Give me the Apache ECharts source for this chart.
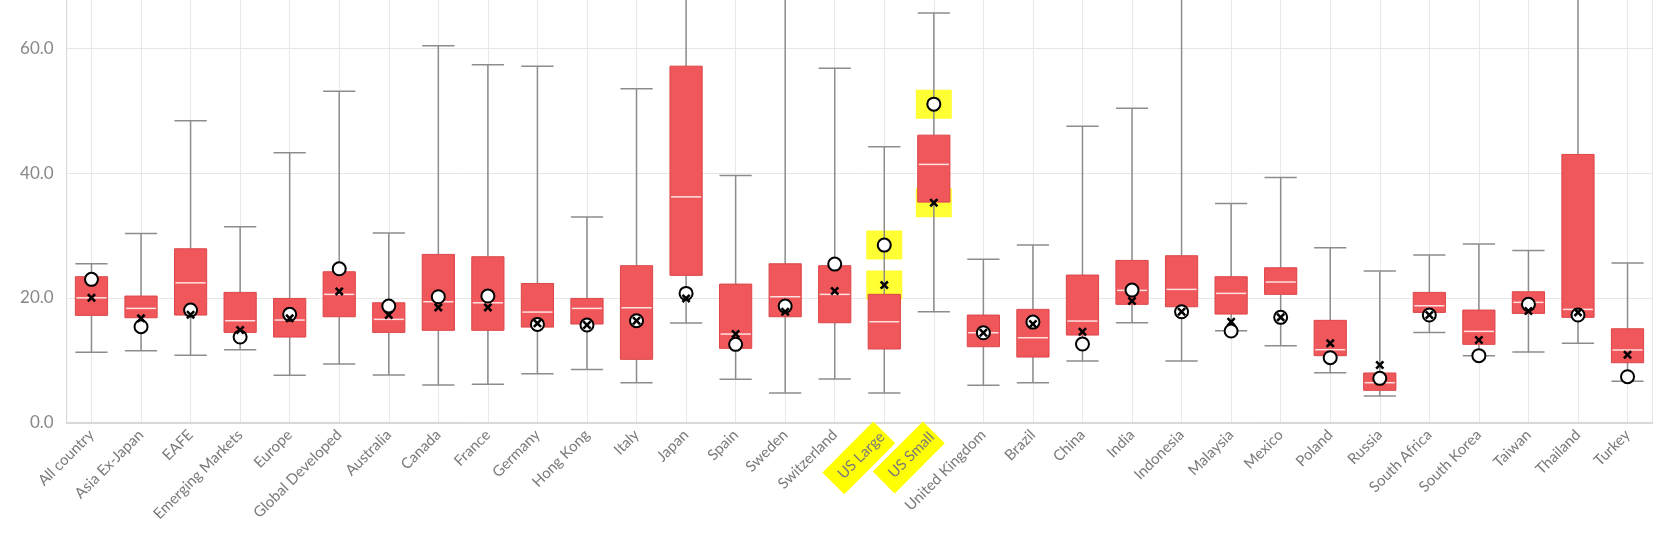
<!DOCTYPE html>
<html>
<head>
<meta charset="utf-8">
<script src="https://cdn.jsdelivr.net/npm/echarts@6/dist/echarts.min.js"></script>
<style>
html,body{margin:0;padding:0;background:#fff;}
#chart{width:1677px;height:535px;}
</style>
</head>
<body>
<div id="chart"></div>
<script>
const categories = ['All country','Asia Ex-Japan','EAFE','Emerging Markets','Europe','Global Developed','Australia','Canada','France','Germany','Hong Kong','Italy','Japan','Spain','Sweden','Switzerland','US Large','US Small','United Kingdom','Brazil','China','India','Indonesia','Malaysia','Mexico','Poland','Russia','South Africa','South Korea','Taiwan','Thailand','Turkey'];
const lowerWhisker = [11.25,11.5,10.76,11.67,7.55,9.37,7.6,6.0,6.11,7.82,8.5,6.37,15.95,6.91,4.72,6.96,4.72,17.76,5.95,6.37,9.85,16.0,9.85,14.72,12.31,7.98,4.24,14.45,10.71,11.29,12.69,6.59];
const q1 = [17.18,16.8,17.23,14.45,13.7,16.96,14.45,14.78,14.78,15.3,15.79,10.12,23.6,11.89,16.96,16.0,11.78,35.36,12.15,10.49,14.02,18.95,18.56,17.39,20.55,10.71,5.15,17.66,12.53,17.5,16.86,9.58];
const median = [20.0,18.3,22.4,16.32,16.43,20.55,16.54,19.37,19.2,17.71,18.3,18.4,36.2,14.18,20.17,20.55,16.16,41.41,14.39,13.59,16.27,21.19,21.35,20.71,22.53,11.67,6.37,18.72,14.61,19.27,18.14,11.62];
const q3 = [23.38,20.28,27.87,20.87,19.9,24.18,19.2,26.97,26.59,22.3,19.9,25.15,57.18,22.2,25.46,25.15,20.55,46.11,17.23,18.14,23.65,26.0,26.75,23.38,24.82,16.38,7.93,20.87,18.03,20.97,43.01,15.03];
const upperWhisker = [25.46,30.34,48.4,31.4,43.27,53.17,30.39,60.44,57.39,57.18,32.95,53.55,80,39.64,72,56.86,44.24,65.73,26.17,28.46,47.55,50.44,75,35.15,39.32,28.03,24.29,26.86,28.62,27.6,85,25.57];
const circleValues = [22.96,15.36,18.03,13.7,17.34,24.66,18.67,20.17,20.28,15.73,15.63,16.32,20.71,12.53,18.67,25.41,28.46,51.08,14.39,16.1,12.58,21.24,17.76,14.66,16.86,10.38,7.07,17.23,10.71,18.95,17.23,7.33];
const crossValues = [20.0,16.7,17.28,14.82,16.7,21.03,17.23,18.46,18.46,15.9,15.63,16.32,19.9,14.18,17.76,21.08,22.04,35.25,14.39,15.8,14.55,19.48,17.76,16.16,16.86,12.69,9.21,17.23,13.22,17.87,17.66,10.86];
const highlighted = ['US Large','US Small'];
const yTicks = [0, 20, 40, 60, 80];

const FONT = 'Lato, "Open Sans", sans-serif';
const boxData = categories.map((c, i) => [i, lowerWhisker[i], q1[i], median[i], q3[i], upperWhisker[i]]);
const circleData = categories.map((c, i) => [i, circleValues[i]]);
const crossData = categories.map((c, i) => [i, crossValues[i]]);
const hlData = [];
highlighted.forEach(name => {
  const i = categories.indexOf(name);
  hlData.push([i, circleValues[i]]);
  hlData.push([i, crossValues[i]]);
});

const chart = echarts.init(document.getElementById('chart'), null, {renderer: 'canvas'});
chart.setOption({
  animation: false,
  backgroundColor: '#ffffff',
  grid: {left: 66.7, right: 24.7, top: -76, bottom: 112.6, show: true, borderColor: '#e3e3e3', borderWidth: 1, containLabel: false, outerBoundsMode: 'none'},
  xAxis: {
    type: 'category',
    data: categories,
    boundaryGap: true,
    axisLine: {show: true, lineStyle: {color: '#d9d9d9', width: 2}},
    axisTick: {show: false},
    splitLine: {show: true, alignWithLabel: true, lineStyle: {color: '#e8e8e8', width: 1}},
    axisLabel: {
      interval: 0,
      rotate: 45,
      margin: 10,
      color: '#7a7a7a',
      fontSize: 15,
      fontFamily: FONT,
      formatter: v => highlighted.includes(v) ? '{hl|' + v + '}' : v,
      rich: {
        hl: {backgroundColor: '#ffff00', padding: [8, 3, 8, 10], color: '#7a7a7a', fontSize: 15, fontFamily: FONT}
      }
    }
  },
  yAxis: {
    type: 'value',
    min: yTicks[0],
    max: yTicks[yTicks.length - 1],
    interval: 20,
    axisLine: {show: true, lineStyle: {color: '#d9d9d9', width: 1}},
    axisTick: {show: false},
    splitLine: {show: true, lineStyle: {color: '#e6e6e6', width: 1}},
    axisLabel: {color: '#888888', fontSize: 17, fontFamily: FONT, margin: 13, formatter: v => v.toFixed(1)}
  },
  series: [
    {
      name: 'highlight',
      type: 'scatter',
      data: hlData,
      symbol: 'rect',
      symbolSize: [36, 29],
      itemStyle: {color: '#ffff00'},
      z: 1,
      silent: true
    },
    {
      name: 'range',
      type: 'custom',
      data: boxData,
      encode: {x: 0, y: [1, 2, 3, 4, 5]},
      z: 2,
      renderItem: function (params, api) {
        const i = api.value(0);
        const x = api.coord([i, 0])[0];
        const yLo = api.coord([i, api.value(1)])[1];
        const yQ1 = api.coord([i, api.value(2)])[1];
        const yMed = api.coord([i, api.value(3)])[1];
        const yQ3 = api.coord([i, api.value(4)])[1];
        const yHi = api.coord([i, api.value(5)])[1];
        const bw = api.size([1, 0])[0] * 0.65;
        const wStyle = {stroke: '#8c8c8c', lineWidth: 1.5};
        return {
          type: 'group',
          children: [
            {type: 'line', shape: {x1: x, y1: yLo, x2: x, y2: yQ1}, style: wStyle},
            {type: 'line', shape: {x1: x, y1: yQ3, x2: x, y2: yHi}, style: wStyle},
            {type: 'line', shape: {x1: x - bw / 2, y1: yLo, x2: x + bw / 2, y2: yLo}, style: wStyle},
            {type: 'line', shape: {x1: x - bw / 2, y1: yHi, x2: x + bw / 2, y2: yHi}, style: wStyle},
            {type: 'rect', shape: {x: x - bw / 2, y: yQ3, width: bw, height: yQ1 - yQ3}, style: {fill: '#f0575a', stroke: '#dc4649', lineWidth: 1}},
            {type: 'line', shape: {x1: x - bw / 2 + 1, y1: yMed, x2: x + bw / 2 - 1, y2: yMed}, style: {stroke: '#ffe1e1', lineWidth: 1.5}}
          ]
        };
      }
    },
    {
      name: 'circle',
      type: 'scatter',
      data: circleData,
      symbol: 'circle',
      symbolSize: 13,
      itemStyle: {color: '#ffffff', borderColor: '#000000', borderWidth: 2, opacity: 1},
      z: 3
    },
    {
      name: 'cross',
      type: 'scatter',
      data: crossData,
      symbol: 'path://M0,2L2,0L5,3L8,0L10,2L7,5L10,8L8,10L5,7L2,10L0,8L3,5Z',
      symbolSize: 9,
      itemStyle: {color: '#000000', opacity: 1},
      z: 4
    }
  ]
});
</script>
</body>
</html>
